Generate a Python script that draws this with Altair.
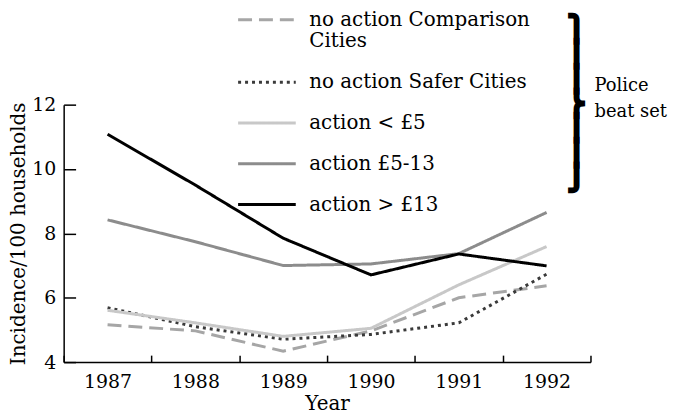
import altair as alt
import pandas as pd

years = [1987, 1988, 1989, 1990, 1991, 1992]
series_names = [
    "no action Comparison Cities",
    "no action Safer Cities",
    "action < £5",
    "action £5-13",
    "action > £13",
]
comparison = [5.16, 4.97, 4.34, 4.97, 6.00, 6.37]
safer = [5.69, 5.10, 4.71, 4.86, 5.22, 6.73]
action_lt5 = [5.61, 5.22, 4.80, 5.05, 6.40, 7.59]
action_5_13 = [8.42, 7.74, 7.00, 7.05, 7.37, 8.65]
action_gt13 = [11.08, 9.50, 7.85, 6.71, 7.36, 6.99]
y_ticks = [4, 6, 8, 10, 12]
x_boundaries = [1986.5, 1987.5, 1988.5, 1989.5, 1990.5, 1991.5, 1992.5]
note_lines = ["Police", "beat set"]
brace_pieces = ["⎫", "⎪", "⎪", "⎬", "⎪", "⎪", "⎭"]

colors = ["#a6a6a6", "#3a3a3a", "#c8c8c8", "#8c8c8c", "#000000"]
dashes = [[14, 7], [3, 4], [1, 0], [1, 0], [1, 0]]

rows = []
for k, (name, vals) in enumerate(zip(series_names, [comparison, safer, action_lt5, action_5_13, action_gt13])):
    for yr, v in zip(years, vals):
        rows.append({"series": name, "year": yr, "value": v, "order": k})
df = pd.DataFrame(rows)

FONT = "DejaVu Serif"
W, H = 530, 259

legend = alt.Legend(
    orient="none", legendX=174, legendY=-116, title=None,
    symbolType="stroke", symbolSize=3364, symbolStrokeWidth=3,
    labelFont=FONT, labelFontSize=20, labelColor="black", labelOffset=12,
    labelLimit=400, rowPadding=0, padding=0,
    labelExpr="datum.value == 'no action Comparison Cities' ? ['no action Comparison', 'Cities'] : datum.label",
)

xscale = alt.Scale(domain=[1986.5, 1992.5], nice=False, zero=False)
yscale = alt.Scale(domain=[4, 12], nice=False, zero=False)

lines = alt.Chart(df).mark_line(strokeWidth=3, strokeCap="butt").encode(
    x=alt.X("year:Q", scale=xscale, axis=alt.Axis(
        orient="bottom", values=years, format="d", tickSize=0, grid=False,
        labelFont=FONT, labelFontSize=19, labelColor="black", labelPadding=11,
        domainColor="black", domainWidth=1.5,
        title="Year", titleFont=FONT, titleFontSize=20, titleFontWeight="normal",
        titleColor="black", titlePadding=2)),
    y=alt.Y("value:Q", scale=yscale, axis=alt.Axis(
        orient="left", values=y_ticks, tickSize=0, grid=False,
        labelFont=FONT, labelFontSize=19, labelColor="black", labelPadding=8,
        domainColor="black", domainWidth=1.5,
        title="Incidence/100 households", titleFont=FONT, titleFontSize=20,
        titleFontWeight="normal", titleColor="black", titlePadding=3)),
    color=alt.Color("series:N", scale=alt.Scale(domain=series_names, range=colors), legend=legend),
    strokeDash=alt.StrokeDash("series:N", scale=alt.Scale(domain=series_names, range=dashes), legend=legend),
    order=alt.Order("order:Q"),
    detail="series:N",
)

ticks = alt.Chart(df).mark_line(opacity=0).encode(
    x=alt.X("year:Q", scale=xscale, axis=alt.Axis(
        orient="top", offset=-H, values=x_boundaries, labels=False, domain=False,
        ticks=True, tickSize=7, tickColor="black", tickWidth=1.5, grid=False, title=None)),
    y=alt.Y("value:Q", scale=yscale, axis=alt.Axis(
        orient="right", offset=-W, values=y_ticks, labels=False, domain=False,
        ticks=True, tickSize=12, tickColor="black", tickWidth=1.5, grid=False, title=None)),
    detail="series:N",
)

note = alt.Chart(alt.Data(values=[{}])).mark_text(
    text=note_lines, font=FONT, fontSize=18, align="left", baseline="middle",
    lineHeight=26, color="black",
).encode(x=alt.value(534), y=alt.value(-19))

brace = alt.Chart(alt.Data(values=[{}])).mark_text(
    text=brace_pieces, font="DejaVu Sans", fontSize=25, align="center", baseline="middle",
    lineHeight=25, color="black", fontWeight="bold", stroke="black", strokeWidth=2.5,
).encode(x=alt.value(516), y=alt.value(-76))

chart = alt.layer(ticks, lines, note, brace).resolve_axis(
    x="independent", y="independent"
).properties(
    width=W, height=H,
    autosize=alt.AutoSizeParams(type="none"),
    padding={"left": 56, "top": 96, "right": 80, "bottom": 54},
).configure_view(stroke=None)

chart.save("out.html", embed_options={"renderer": "svg", "actions": False})
